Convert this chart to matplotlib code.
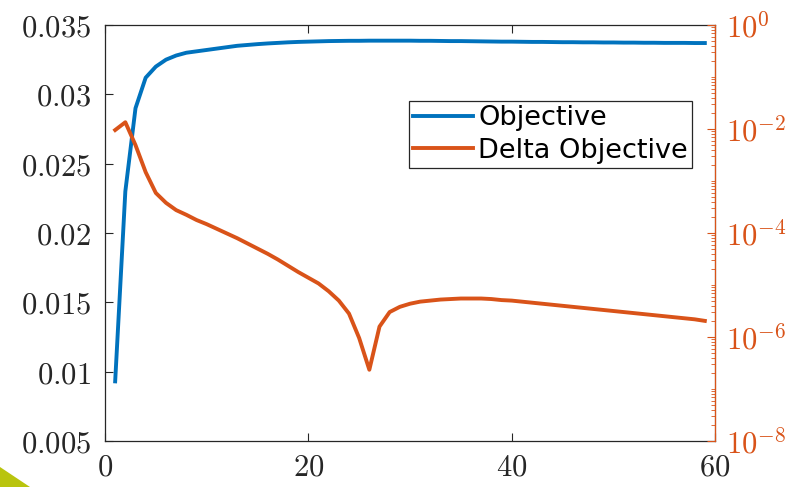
import numpy as np
import matplotlib
matplotlib.use('Agg')
import matplotlib.pyplot as plt
from matplotlib.ticker import FixedLocator, FuncFormatter, LogLocator, NullFormatter
from matplotlib.patches import Polygon

plt.rcParams['mathtext.fontset'] = 'cm'
plt.rcParams['font.family'] = 'DejaVu Sans'

# iteration numbers
iterations = list(range(1, 60))

# objective value per iteration (left axis)
objective = [0.0093, 0.0230, 0.0290, 0.0312, 0.0320, 0.0325, 0.0328, 0.0330, 0.0331, 0.0332,
             0.03330, 0.03340, 0.03350, 0.03356, 0.03362, 0.03367, 0.03371, 0.03375, 0.03378, 0.03380,
             0.03382, 0.03384, 0.03385, 0.03386, 0.03386, 0.03387, 0.03387, 0.03387, 0.03387, 0.03387,
             0.03386, 0.03386, 0.03385, 0.03384, 0.03384, 0.03383, 0.03382, 0.03381, 0.03380, 0.03380,
             0.03379, 0.03378, 0.03378, 0.03377, 0.03376, 0.03376, 0.03375, 0.03375, 0.03374, 0.03374,
             0.03373, 0.03373, 0.03372, 0.03372, 0.03371, 0.03371, 0.03371, 0.03370, 0.03370]

# delta objective, as exponent of 10 (right axis, log scale)
delta_log10 = [-2.02, -1.87, -2.31, -2.83, -3.23, -3.42, -3.56, -3.65, -3.75, -3.83,
               -3.92, -4.01, -4.10, -4.20, -4.30, -4.40, -4.51, -4.63, -4.75, -4.86,
               -4.97, -5.12, -5.30, -5.55, -6.02, -6.63, -5.80, -5.52, -5.42, -5.36,
               -5.32, -5.30, -5.28, -5.27, -5.26, -5.26, -5.26, -5.27, -5.29, -5.30,
               -5.32, -5.34, -5.36, -5.38, -5.40, -5.42, -5.44, -5.46, -5.48, -5.50,
               -5.52, -5.54, -5.56, -5.58, -5.60, -5.62, -5.64, -5.66, -5.69]
delta_objective = [10 ** v for v in delta_log10]

left_ticks = [0.005, 0.01, 0.015, 0.02, 0.025, 0.03, 0.035]
left_labels = ['0.005', '0.01', '0.015', '0.02', '0.025', '0.03', '0.035']
x_ticks = [0, 20, 40, 60]

blue = '#0072BD'
orange = '#D95319'

fig = plt.figure(figsize=(7.96, 4.87), dpi=100)
fig.patch.set_facecolor('white')

# yellow corner from the slide background
fig.patches.append(Polygon([[0, 0], [0, 20 / 487], [30 / 796, 0]], closed=True,
                           transform=fig.transFigure, facecolor='#b9c40e',
                           edgecolor='none', zorder=0))

ax = fig.add_axes([105 / 796, 1 - 441 / 487, 610 / 796, 416 / 487])
ax2 = ax.twinx()

l1, = ax.plot(iterations, objective, color=blue, lw=2.8, label='Objective')
l2, = ax2.plot(iterations, delta_objective, color=orange, lw=2.8, label='Delta Objective')

ax.set_xlim(0, 60)
ax.set_ylim(0.005, 0.035)
ax.xaxis.set_major_locator(FixedLocator(x_ticks))
ax.xaxis.set_major_formatter(FuncFormatter(lambda v, p: r'$%d$' % v))
ax.yaxis.set_major_locator(FixedLocator(left_ticks))
ax.set_yticklabels([r'$%s$' % s for s in left_labels])
ax.tick_params(axis='both', direction='in', length=6, width=0.8, labelsize=22,
               color='#262626', labelcolor='#262626')
ax.tick_params(axis='x', top=True, pad=8)
ax.tick_params(axis='y', right=False, pad=10)
for s in ['left', 'bottom', 'top']:
    ax.spines[s].set_color('#262626')
    ax.spines[s].set_linewidth(0.9)

ax2.set_yscale('log')
ax2.set_ylim(1e-8, 1e0)
ax2.yaxis.set_major_locator(FixedLocator([1e-8, 1e-6, 1e-4, 1e-2, 1e0]))
ax2.yaxis.set_major_formatter(FuncFormatter(lambda v, p: r'$10^{%d}$' % round(np.log10(v))))
ax2.yaxis.set_minor_locator(LogLocator(base=10, subs=np.arange(1, 10), numticks=20))
ax2.yaxis.set_minor_formatter(NullFormatter())
ax2.tick_params(axis='y', which='major', direction='in', length=6, width=0.8,
                labelsize=22, color=orange, labelcolor=orange, pad=8)
ax2.tick_params(axis='y', which='minor', direction='in', length=3, width=0.6, color=orange)
ax2.spines['right'].set_color(orange)
ax2.spines['right'].set_linewidth(0.9)
for s in ['left', 'bottom', 'top']:
    ax2.spines[s].set_visible(False)

leg = ax2.legend([l1, l2], ['Objective', 'Delta Objective'], loc='upper right',
                 bbox_to_anchor=(0.962, 0.817), borderaxespad=0, fontsize=19.5,
                 fancybox=False, framealpha=1, edgecolor='#262626',
                 handlelength=2.2, handletextpad=0.2, borderpad=0.15, labelspacing=0.25)
leg.get_frame().set_linewidth(0.9)

fig.savefig('out.png', dpi=100)
